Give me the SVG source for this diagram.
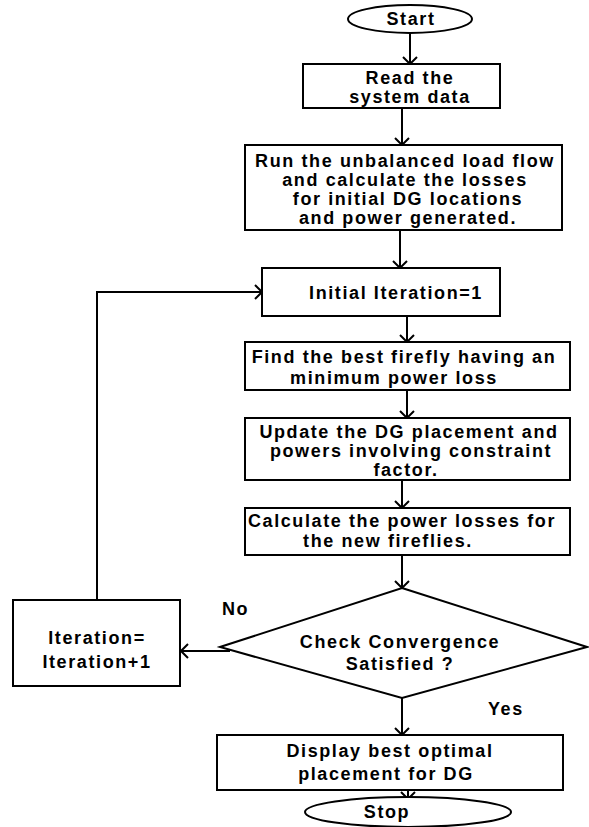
<svg xmlns="http://www.w3.org/2000/svg" width="589" height="827" viewBox="0 0 589 827">
  <style>
    .shape { fill: #ffffff; stroke: #000000; stroke-width: 2; }
    .wire { fill: none; stroke: #000000; stroke-width: 2; }
    text { font-family: "Liberation Sans", Arial, sans-serif; font-weight: bold; font-size: 18px; letter-spacing: 1.6px; fill: #000000; text-anchor: middle; }
    .lbl { text-anchor: start; }
  </style>
  <defs>
    <marker id="head" viewBox="-9 -9 10 18" markerWidth="10" markerHeight="18" refX="0" refY="0" orient="auto" markerUnits="userSpaceOnUse">
      <path d="M-7,-7 L0,0 L-7,7" fill="none" stroke="#000000" stroke-width="2"/>
    </marker>
  </defs>

  <!-- connectors -->
  <g id="connectors" class="wire" marker-end="url(#head)">
    <line x1="410" y1="33" x2="410" y2="64"/>
    <line x1="402" y1="108" x2="402" y2="145"/>
    <line x1="400" y1="230" x2="400" y2="268"/>
    <line x1="407" y1="316" x2="407" y2="342"/>
    <line x1="407" y1="390" x2="407" y2="418"/>
    <line x1="402" y1="480" x2="402" y2="508"/>
    <line x1="402" y1="555" x2="402" y2="588"/>
    <line x1="230" y1="651" x2="181" y2="651"/>
    <polyline points="97,600 97,292 262,292"/>
    <line x1="402" y1="698" x2="402" y2="735"/>
    <line x1="408" y1="790" x2="408" y2="799"/>
  </g>

  <g id="start">
    <ellipse class="shape" cx="410" cy="19" rx="62" ry="14"/>
    <text x="411" y="25">Start</text>
  </g>

  <g id="read-data">
    <rect class="shape" x="303" y="64" width="197" height="44"/>
    <text x="410" y="84">Read the</text>
    <text x="410" y="103">system data</text>
  </g>

  <g id="load-flow">
    <rect class="shape" x="245" y="145" width="317" height="85"/>
    <text x="405" y="167">Run the unbalanced load flow</text>
    <text x="405" y="186">and calculate the losses</text>
    <text x="408" y="205">for initial DG locations</text>
    <text x="408" y="224">and power generated.</text>
  </g>

  <g id="init-iteration">
    <rect class="shape" x="262" y="268" width="238" height="48"/>
    <text x="396" y="299">Initial Iteration=1</text>
  </g>

  <g id="best-firefly">
    <rect class="shape" x="245" y="342" width="325" height="48"/>
    <text x="404" y="363">Find the best firefly having an</text>
    <text x="394" y="384">minimum power loss</text>
  </g>

  <g id="update-placement">
    <rect class="shape" x="245" y="418" width="325" height="62"/>
    <text x="409" y="438">Update the DG placement and</text>
    <text x="411" y="457">powers involving constraint</text>
    <text x="406" y="476">factor.</text>
  </g>

  <g id="calc-losses">
    <rect class="shape" x="245" y="508" width="325" height="47"/>
    <text x="402" y="527">Calculate the power losses for</text>
    <text x="388" y="547">the new fireflies.</text>
  </g>

  <g id="convergence">
    <polygon class="shape" points="402,588 587,647 402,698 220,647"/>
    <text x="400" y="648">Check Convergence</text>
    <text x="400" y="670">Satisfied ?</text>
  </g>

  <g id="next-iteration">
    <rect class="shape" x="13" y="600" width="167" height="86"/>
    <text x="97" y="644">Iteration=</text>
    <text x="97" y="668">Iteration+1</text>
  </g>

  <g id="labels">
    <text class="lbl" x="222" y="615">No</text>
    <text class="lbl" x="488" y="715">Yes</text>
  </g>

  <g id="display-result">
    <rect class="shape" x="217" y="735" width="346" height="55"/>
    <text x="390" y="757">Display best optimal</text>
    <text x="386" y="780">placement for DG</text>
  </g>

  <g id="stop">
    <ellipse class="shape" cx="408" cy="812" rx="103" ry="15"/>
    <text x="387" y="818">Stop</text>
  </g>
</svg>
